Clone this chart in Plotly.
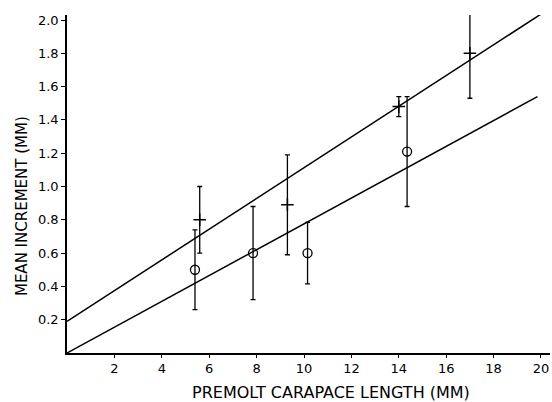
import plotly.graph_objects as go

# Crosses series
cross_x = [5.6, 9.3, 14.0, 17.0]
cross_y = [0.80, 0.89, 1.48, 1.80]
cross_err = [0.20, 0.30, 0.06, 0.27]

# Circles series
circ_x = [5.4, 7.85, 10.15, 14.35]
circ_y = [0.50, 0.60, 0.60, 1.21]
circ_err = [0.24, 0.28, 0.185, 0.33]

# Regression lines
upper_x = [0, 20.05]
upper_y = [0.19, 2.04]
lower_x = [0, 19.85]
lower_y = [0.0, 1.54]

x_ticks = [2, 4, 6, 8, 10, 12, 14, 16, 18, 20]
y_ticks = [0.2, 0.4, 0.6, 0.8, 1.0, 1.2, 1.4, 1.6, 1.8, 2.0]

FONT = "DejaVu Sans"

fig = go.Figure()
fig.add_trace(go.Scatter(x=upper_x, y=upper_y, mode="lines", cliponaxis=False,
                         line=dict(color="black", width=1.5), showlegend=False))
fig.add_trace(go.Scatter(x=lower_x, y=lower_y, mode="lines",
                         line=dict(color="black", width=1.5), showlegend=False))
fig.add_trace(go.Scatter(
    x=cross_x, y=cross_y, mode="markers", cliponaxis=False,
    marker=dict(symbol="cross-thin-open", size=9, color="black",
                line=dict(color="black", width=1.5)),
    error_y=dict(type="data", array=cross_err, visible=True,
                 color="black", thickness=1.3, width=2.5),
    showlegend=False))
fig.add_trace(go.Scatter(
    x=circ_x, y=circ_y, mode="markers",
    marker=dict(symbol="circle-open", size=9, color="black",
                line=dict(color="black", width=1.3)),
    error_y=dict(type="data", array=circ_err, visible=True,
                 color="black", thickness=1.3, width=2.5),
    showlegend=False))

fig.update_layout(
    width=552, height=402,
    margin=dict(l=67, r=2, t=15, b=49),
    paper_bgcolor="white", plot_bgcolor="white",
    font=dict(family=FONT, color="black", size=13),
    xaxis=dict(range=[0, 20.38], tickvals=x_ticks, ticktext=[str(v) for v in x_ticks],
               showgrid=False, zeroline=False, showline=True, linecolor="black",
               linewidth=1.5, ticks="outside", ticklen=3, tickcolor="black",
               tickfont=dict(family=FONT, size=13)),
    yaxis=dict(range=[0, 2.03], tickvals=y_ticks, ticktext=[f"{v:.1f}" for v in y_ticks],
               showgrid=False, zeroline=False, showline=True, linecolor="black",
               linewidth=1.5, ticks="outside", ticklen=4, tickcolor="black",
               tickfont=dict(family=FONT, size=13)),
    annotations=[
        dict(text="PREMOLT CARAPACE LENGTH (MM)", xref="paper", yref="paper",
             x=0.547, y=-0.118, xanchor="center", yanchor="middle", showarrow=False,
             font=dict(family=FONT, size=16, color="black")),
        dict(text="MEAN INCREMENT (MM)", xref="paper", yref="paper",
             x=-0.093, y=0.435, xanchor="center", yanchor="middle", showarrow=False,
             textangle=-90, font=dict(family=FONT, size=15, color="black")),
    ],
)

fig.write_html(
    "out.html",
    config={"displayModeBar": False},
    post_script="document.body.style.margin='0';document.body.style.overflow='hidden';",
)
